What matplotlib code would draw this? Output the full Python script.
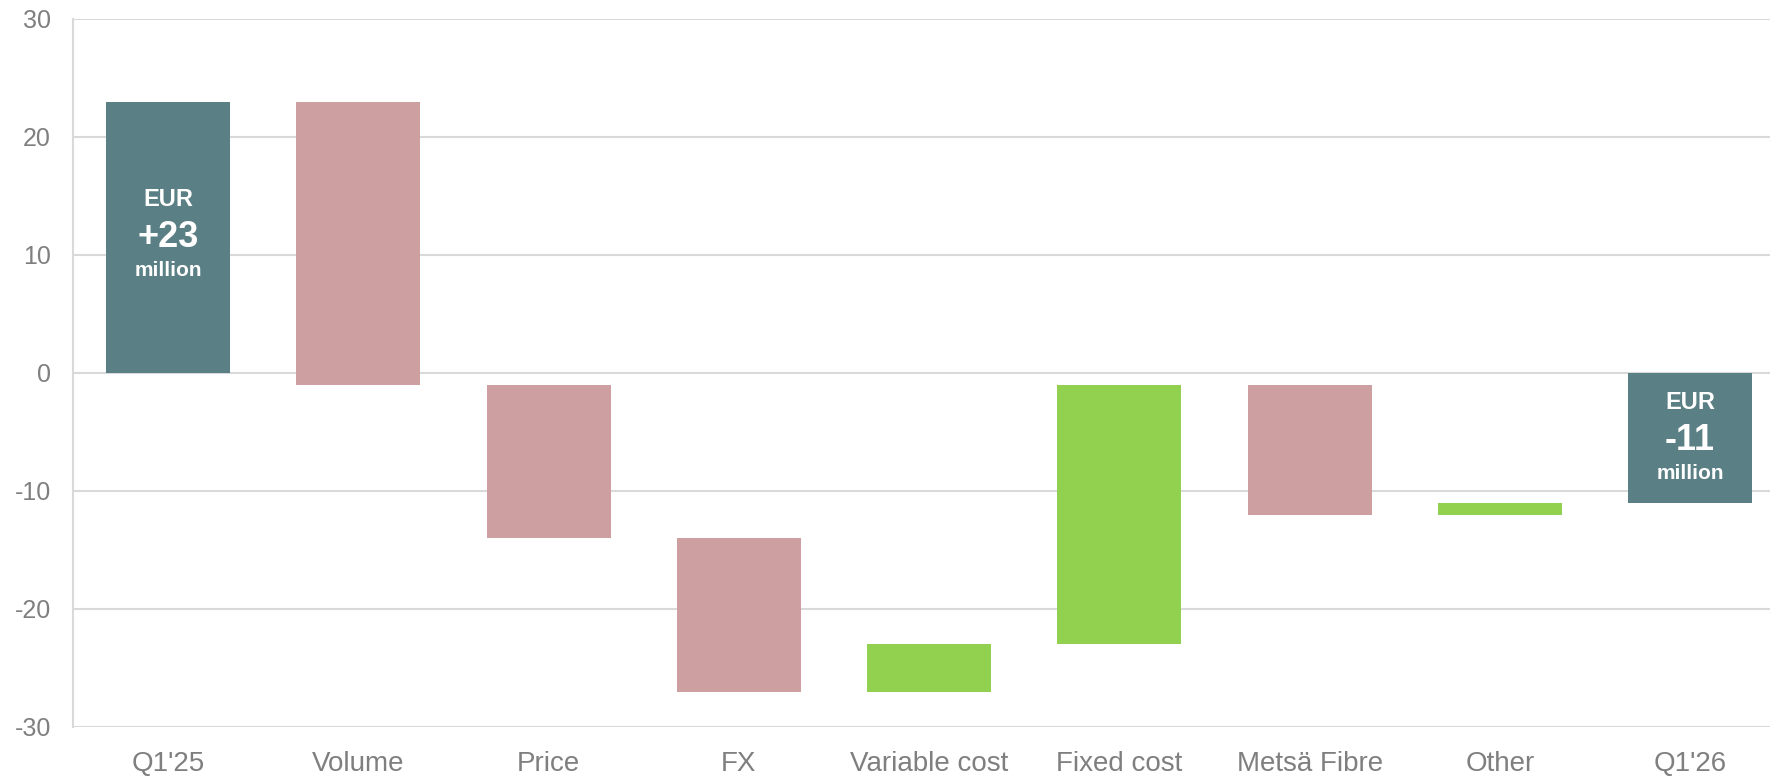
import matplotlib
matplotlib.use("Agg")
import matplotlib.pyplot as plt
import numpy as np

categories = ["Q1'25", "Volume", "Price", "FX", "Variable cost", "Fixed cost", "Metsä Fibre", "Other", "Q1'26"]
# bar bottoms and tops (EUR million)
bar_low = [0, -1, -14, -27, -27, -23, -12, -12, -11]
bar_high = [23, 23, -1, -14, -23, -1, -1, -11, 0]
kinds = ["total", "neg", "neg", "neg", "pos", "pos", "neg", "pos", "total"]
yticks = [-30, -20, -10, 0, 10, 20, 30]
labels_total = {0: ("EUR", "+23", "million"), 8: ("EUR", "-11", "million")}

colors = {"total": "#5A7F84", "neg": "#CE9FA0", "pos": "#92D050"}

plt.rcParams['font.family'] = ['Liberation Sans', 'DejaVu Sans']
fig = plt.figure(figsize=(17.7, 7.79), dpi=100)
ax = fig.add_axes([73/1770, 1-727/779, 1-73/1770, (727-19)/779])

x = np.arange(len(categories))
heights = np.array(bar_high) - np.array(bar_low)
ax.bar(x, heights, bottom=bar_low, width=0.652, color=[colors[k] for k in kinds], zorder=3)

for i, (a, b, c) in labels_total.items():
    if i == 0:
        ys = (14.7, 11.5, 8.7)
    else:
        ys = (-2.5, -5.7, -8.5)
    ax.text(i, ys[0], a, ha='center', va='center', color='white', fontsize=17, fontweight='bold', zorder=4)
    ax.text(i, ys[1], b, ha='center', va='center', color='white', fontsize=26, fontweight='bold', zorder=4)
    ax.text(i, ys[2], c, ha='center', va='center', color='white', fontsize=15, fontweight='bold', zorder=4)

ax.set_ylim(-30, 30)
ax.set_xlim(-0.5, 8.42)
ax.set_yticks(yticks)
ax.set_yticklabels([str(t) for t in yticks])
ax.set_xticks(x)
ax.set_xticklabels(categories)
ax.yaxis.grid(True, color='#D9D9D9', linewidth=1.5, zorder=0)
ax.set_axisbelow(True)
for s in ['top', 'right', 'bottom']:
    ax.spines[s].set_visible(False)
ax.spines['left'].set_color('#D9D9D9')
ax.spines['left'].set_linewidth(1.5)
ax.tick_params(axis='both', length=0, colors='#7F7F7F')
ax.tick_params(axis='y', pad=16, labelsize=18)
ax.tick_params(axis='x', pad=17, labelsize=20)

fig.savefig("out.png", dpi=100)
